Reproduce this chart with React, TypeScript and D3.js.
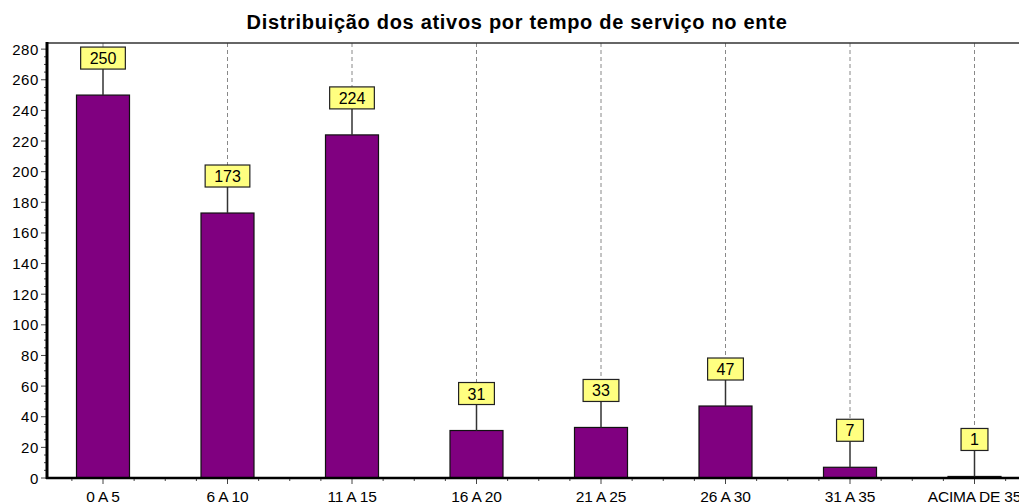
import React, { useEffect, useRef } from "react";
import * as d3 from "d3";

const title = "Distribuição dos ativos por tempo de serviço no ente";
const categories = ["0 A 5", "6 A 10", "11 A 15", "16 A 20", "21 A 25", "26 A 30", "31 A 35", "ACIMA DE 35"];
const values = [250, 173, 224, 31, 33, 47, 7, 1];
const yTicks = [0, 20, 40, 60, 80, 100, 120, 140, 160, 180, 200, 220, 240, 260, 280];

const W = 1019;
const H = 504;

export default function App() {
  const ref = useRef<SVGSVGElement>(null);

  useEffect(() => {
    const svg = d3.select(ref.current);
    svg.selectAll("*").remove();

    const left = 47;
    const top = 43;
    const bottom = 478;

    const y = d3.scaleLinear().domain([0, 284]).range([bottom, top]);
    const x = d3.scaleLinear().domain([0, 7]).range([103, 974.5]);
    const barW = 53;
    const font = "Arial, Liberation Sans, sans-serif";

    // title
    svg.append("text")
      .attr("x", 517).attr("y", 29)
      .attr("text-anchor", "middle")
      .attr("font-family", font)
      .attr("font-size", 20).attr("font-weight", "bold")
      .attr("letter-spacing", 0.7)
      .attr("fill", "#000")
      .text(title);

    const boxH = 22;
    const gap = 26;
    const g = svg.append("g");

    // dashed grid lines from top to label boxes
    categories.forEach((c, i) => {
      const v = values[i];
      const cx = x(i);
      const boxTop = y(v) - gap - boxH;
      g.append("line")
        .attr("x1", cx).attr("x2", cx)
        .attr("y1", top).attr("y2", boxTop)
        .attr("stroke", "#888").attr("stroke-width", 1)
        .attr("stroke-dasharray", "4,3");
    });

    // bars
    g.selectAll("rect.bar").data(values).enter().append("rect")
      .attr("class", "bar")
      .attr("x", (d, i) => x(i) - barW / 2)
      .attr("y", (d) => y(d))
      .attr("width", barW)
      .attr("height", (d) => bottom - y(d))
      .attr("fill", "#800080")
      .attr("stroke", "#111").attr("stroke-width", 1.2);

    // label connectors and boxes
    categories.forEach((c, i) => {
      const v = values[i];
      const cx = x(i);
      const boxBottom = y(v) - gap;
      const boxTop = boxBottom - boxH;
      g.append("line")
        .attr("x1", cx).attr("x2", cx)
        .attr("y1", boxBottom).attr("y2", y(v))
        .attr("stroke", "#333").attr("stroke-width", 1.5);
      const t = g.append("text")
        .attr("x", cx).attr("y", boxTop + 17)
        .attr("text-anchor", "middle")
        .attr("font-family", font)
        .attr("font-size", 16)
        .attr("fill", "#000")
        .text(String(v));
      const tw = (t.node() as SVGTextElement).getComputedTextLength();
      const bw = tw + 18;
      g.insert("rect", () => t.node() as any)
        .attr("x", cx - bw / 2).attr("y", boxTop)
        .attr("width", bw).attr("height", boxH)
        .attr("fill", "#ffff80")
        .attr("stroke", "#222").attr("stroke-width", 1.2);
    });

    // top frame line
    svg.append("line")
      .attr("x1", left).attr("x2", W)
      .attr("y1", top).attr("y2", top)
      .attr("stroke", "#333").attr("stroke-width", 1.5);

    // y axis ticks
    for (let v = 0; v <= 284; v += 5) {
      const major = v % 20 === 0;
      svg.append("line")
        .attr("x1", major ? left - 6 : left - 3).attr("x2", left)
        .attr("y1", y(v)).attr("y2", y(v))
        .attr("stroke", "#444").attr("stroke-width", 1);
    }
    yTicks.forEach((v) => {
      svg.append("text")
        .attr("x", 39).attr("y", y(v) + 5.5)
        .attr("text-anchor", "end")
        .attr("font-family", font)
        .attr("font-size", 15)
        .attr("letter-spacing", 0.6)
        .attr("fill", "#000")
        .text(String(v));
    });

    // x axis ticks
    for (let q = -1; q <= 7 * 4 + 2; q++) {
      const pos = x(q / 4);
      if (pos < left || pos > W) continue;
      const major = q % 4 === 0;
      svg.append("line")
        .attr("x1", pos).attr("x2", pos)
        .attr("y1", bottom).attr("y2", bottom + (major ? 6 : 3))
        .attr("stroke", "#444").attr("stroke-width", 1);
    }
    categories.forEach((c, i) => {
      svg.append("text")
        .attr("x", x(i)).attr("y", 502)
        .attr("text-anchor", "middle")
        .attr("font-family", font)
        .attr("font-size", 15.5)
        .attr("letter-spacing", -0.2)
        .attr("fill", "#000")
        .text(c);
    });

    // axis lines
    svg.append("line")
      .attr("x1", left).attr("x2", left)
      .attr("y1", top - 1).attr("y2", bottom + 1)
      .attr("stroke", "#000").attr("stroke-width", 3);
    svg.append("line")
      .attr("x1", left - 1).attr("x2", W)
      .attr("y1", bottom).attr("y2", bottom)
      .attr("stroke", "#000").attr("stroke-width", 2.5);
  }, []);

  return (
    <svg
      ref={ref}
      width={W}
      height={H}
      style={{ position: "fixed", left: 0, top: 0, background: "#fff" }}
    />
  );
}
